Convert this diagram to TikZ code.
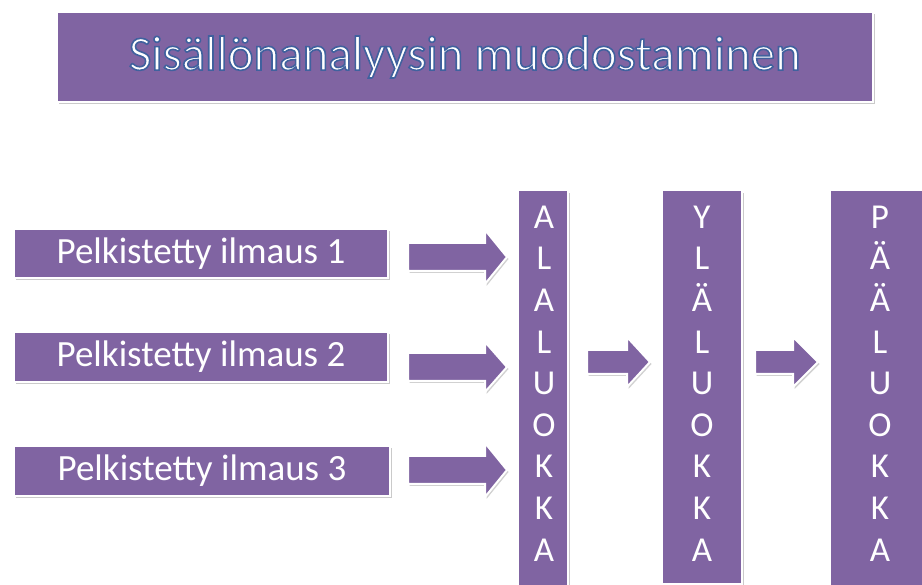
\documentclass[tikz,border=0pt]{standalone}
\usepackage{fontspec}
\setmainfont{Carlito}
\usetikzlibrary{shadows,calc}
\definecolor{purp}{RGB}{128,100,162}
\tikzset{
  pbox/.style={fill=purp, draw=white, line width=2.5pt, inner sep=0pt,
    drop shadow={shadow xshift=1.5pt, shadow yshift=-2.5pt, opacity=0.35, fill=black!60}},
  ptext/.style={text=white, font=\fontsize{37}{44}\selectfont},
  vtext/.style={text=white, align=center, font=\fontsize{35}{41.6}\selectfont},
  barrow/.style={fill=purp, draw=white, line width=2pt,
    drop shadow={shadow xshift=1.5pt, shadow yshift=-2pt, opacity=0.3, fill=black!60}},
}
\newcommand\outlinedtext[1]{\special{pdf:literal direct 2 Tr 1.6 w 0.25 0.38 0.62 RG}#1\special{pdf:literal direct 0 Tr 1 w}}
\begin{document}
\begin{tikzpicture}[x=1pt,y=-1pt]
\useasboundingbox (0,0) rectangle (922,585);
\begin{scope}
\clip (0,0) rectangle (922,585);
% title
\node[pbox, minimum width=816pt, minimum height=90pt] (title) at (465,57) {};
\node[text=white, font=\fontsize{49}{58}\selectfont] (titletext) at (title) {\outlinedtext{Sisällönanalyysin muodostaminen}};

% left boxes
\node[pbox, minimum width=374pt, minimum height=49pt] (p1) at (201,253.5) {};
\node[ptext] at (p1) {Pelkistetty ilmaus 1};
\node[pbox, minimum width=374pt, minimum height=50pt] (p2) at (201,357) {};
\node[ptext] at (p2) {Pelkistetty ilmaus 2};
\node[pbox, minimum width=376pt, minimum height=50pt] (p3) at (202,471) {};
\node[ptext] at (p3) {Pelkistetty ilmaus 3};

% vertical bars
\node[pbox, minimum width=50pt, minimum height=420pt, anchor=north] (b1) at (543,189) {};
\node[vtext] at (544,383.5) {A\\L\\A\\L\\U\\O\\K\\K\\A};
\node[pbox, minimum width=80pt, minimum height=394pt, anchor=north] (b2) at (702,189) {};
\node[vtext] at (702,383.5) {Y\\L\\Ä\\L\\U\\O\\K\\K\\A};
\node[pbox, minimum width=120pt, minimum height=420pt, anchor=north west] (b3) at (828,189) {};
\node[vtext] at (880,383.5) {P\\Ä\\Ä\\L\\U\\O\\K\\K\\A};

% block arrows (tail x, head x, tip x, centre y, shaft half, head half)
\newcommand\blockarrow[6]{%
  \draw[barrow] (#1,#4-#5) -- (#2,#4-#5) -- (#2,#4-#6) -- (#3,#4) -- (#2,#4+#6) -- (#2,#4+#5) -- (#1,#4+#5) -- cycle;}
\blockarrow{408}{485}{507}{257}{14}{27}
\blockarrow{408}{485}{507}{367}{14}{25}
\blockarrow{408}{485}{507}{470}{14}{27}
\blockarrow{587}{627}{650}{362}{12}{25}
\blockarrow{755}{793}{818}{362}{12}{25}
\end{scope}
\end{tikzpicture}
\end{document}
